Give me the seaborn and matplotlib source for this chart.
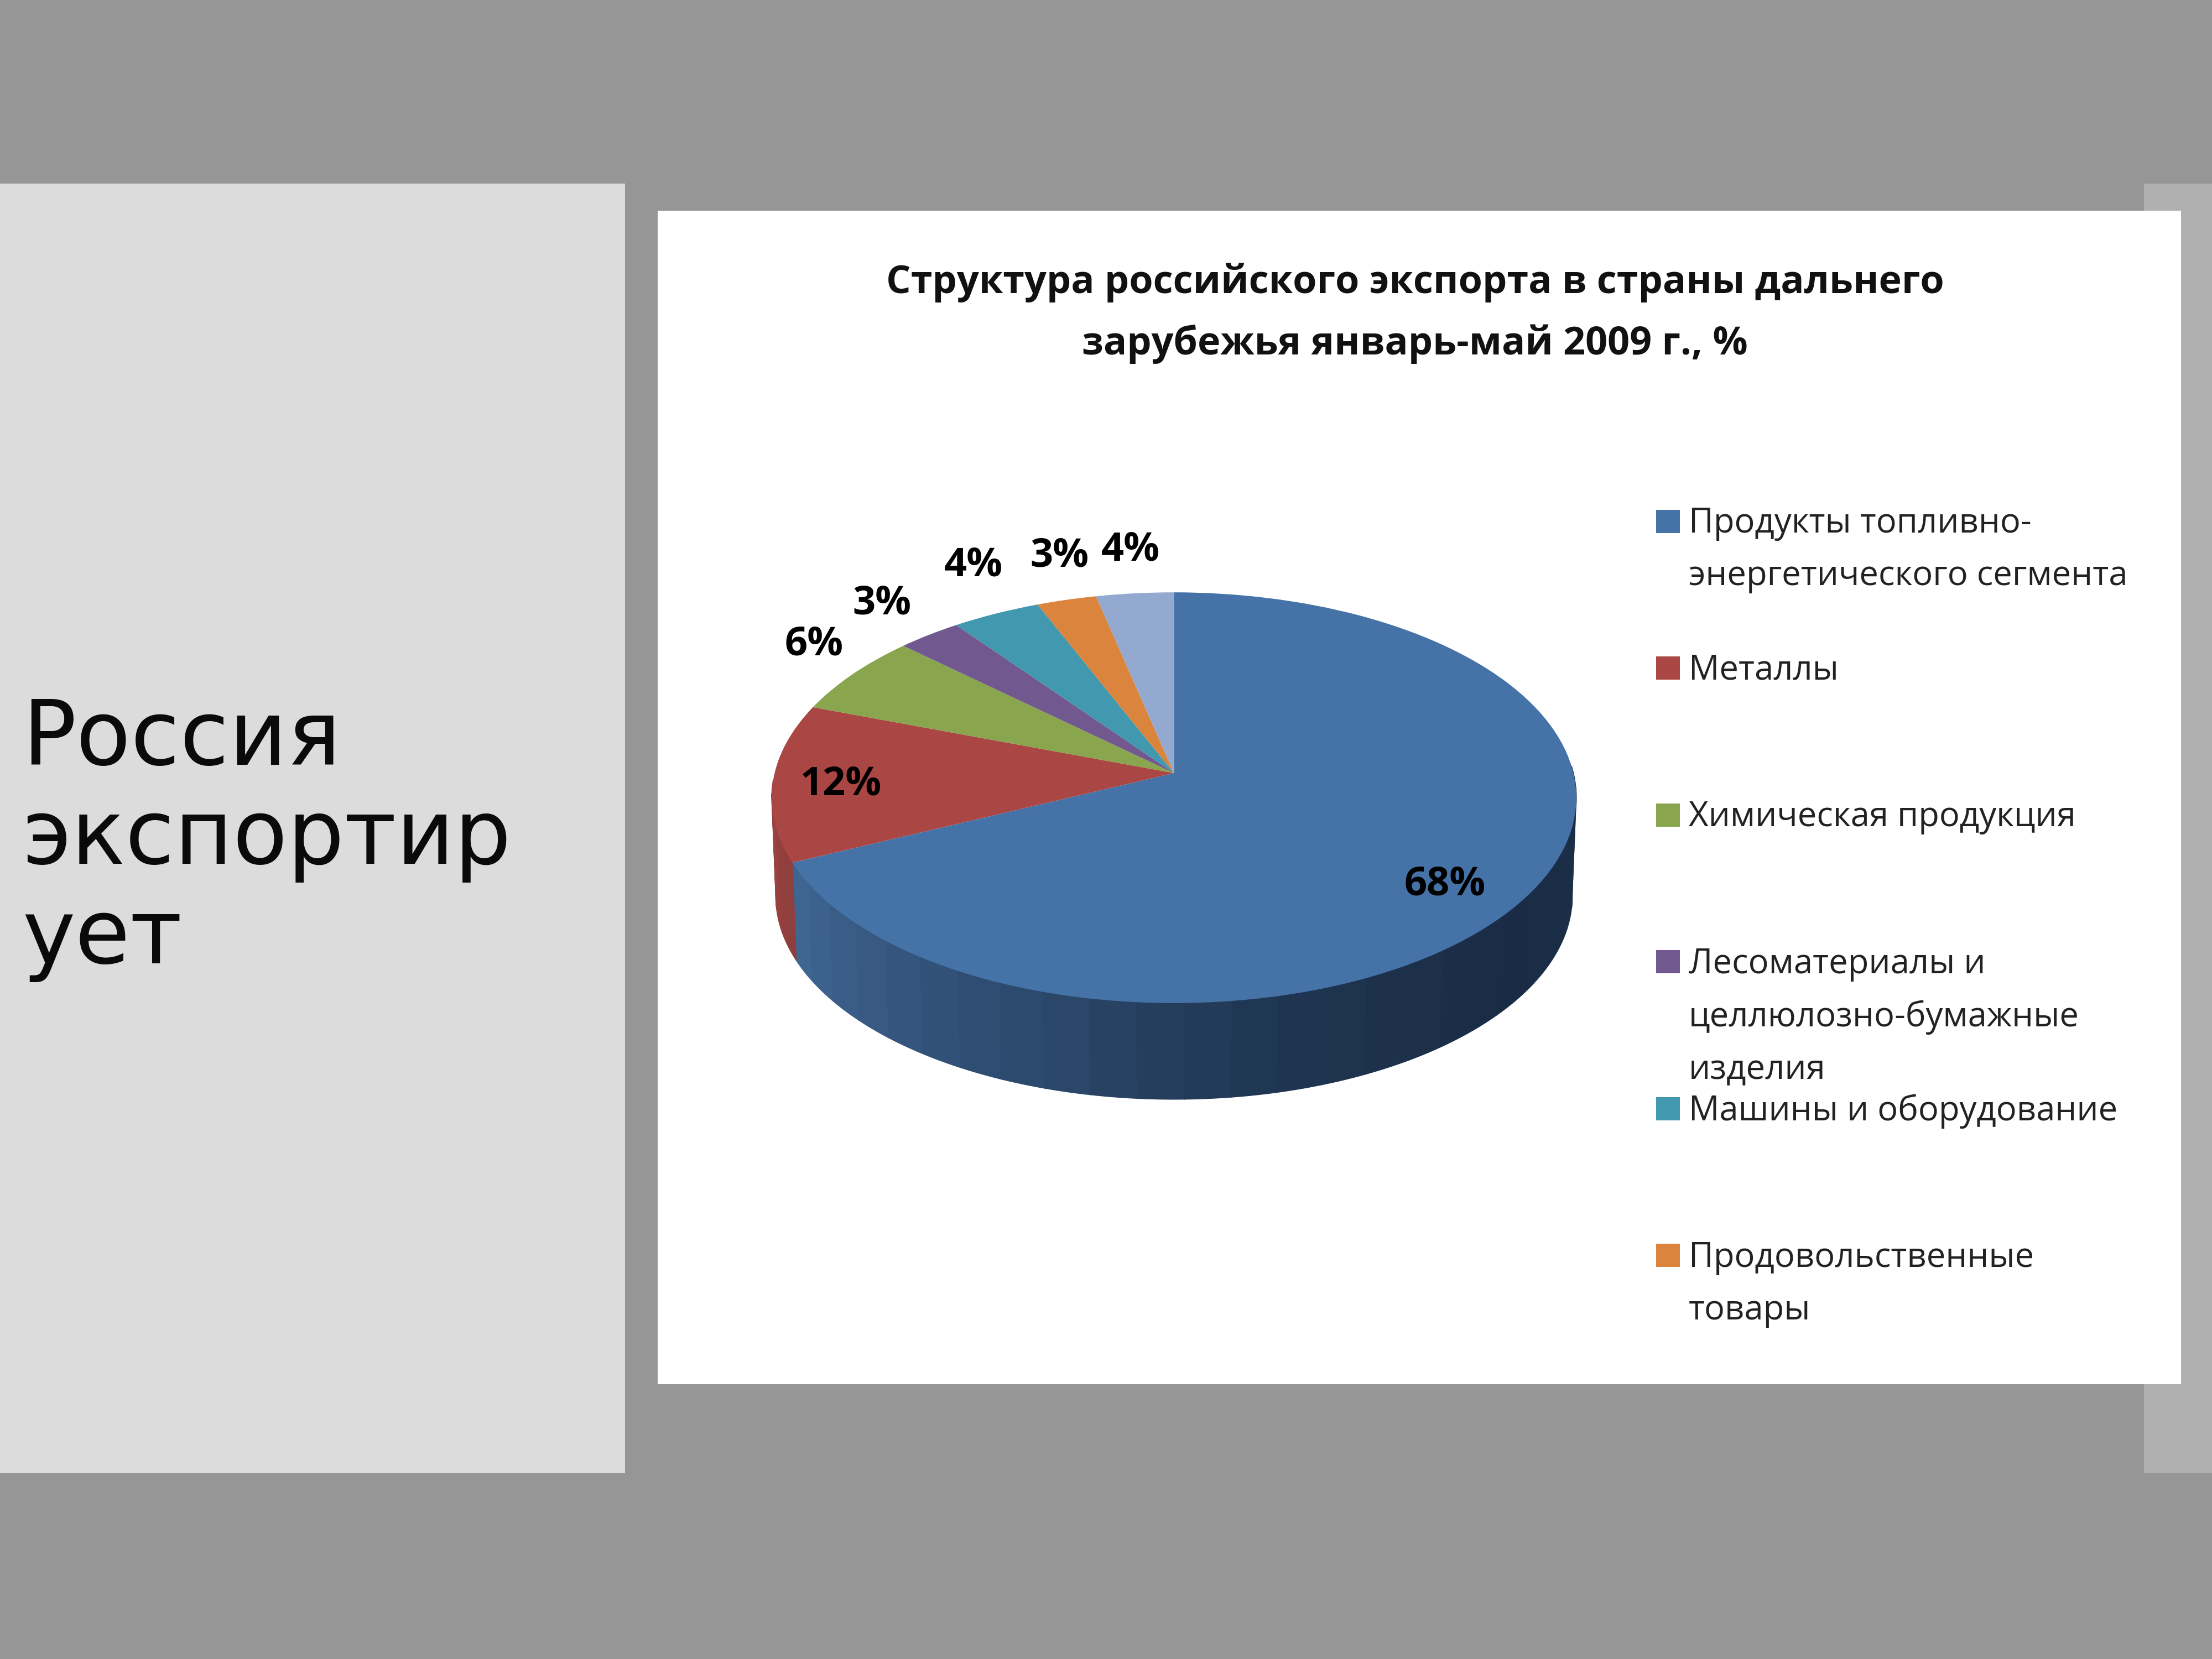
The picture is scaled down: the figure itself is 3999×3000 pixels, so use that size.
import numpy as np
import seaborn as sns
import matplotlib
matplotlib.use("Agg")
import matplotlib.pyplot as plt
from matplotlib.patches import Rectangle
from matplotlib.transforms import Transform

categories = ["Продукты топливно-\nэнергетического сегмента", "Металлы", "Химическая продукция",
              "Лесоматериалы и\nцеллюлозно-бумажные\nизделия", "Машины и оборудование",
              "Продовольственные\nтовары"]
values = [68.1, 12.4, 6.4, 2.9, 4.0, 2.7, 3.5]
pct_labels = ["68%", "12%", "6%", "3%", "4%", "3%", "4%"]
colors = ["#4572A7", "#AA4643", "#89A54E", "#71588F", "#4198AF", "#DB843D", "#93A9CF"]
title = "Структура российского экспорта в страны дальнего\nзарубежья январь-май 2009 г., %"
side_text = "Россия\nэкспортир\nует"

# Layout, in pixels of the 4000x3000 picture
S = 4000 / 1568
label_pos = [(1024, 627), (596, 556), (577, 457), (625, 428), (690, 401), (751, 394), (801, 390)]
DEPTH = 178


class PieTilt(Transform):
    # perspective view of the unit pie, far edge is smaller
    input_dims = 2
    output_dims = 2
    has_inverse = False

    def __init__(self, drop=0.0, shrink=1.0):
        super().__init__()
        self.drop = drop
        self.shrink = shrink

    def transform_non_affine(self, values):
        values = np.asarray(values, dtype=float)
        u, v = values[:, 0], values[:, 1]
        w = 1 + 0.12 * v
        x = 832 * S + self.shrink * 722 * u / w
        y = 548 * S + self.drop - self.shrink * 366 * v / w
        return np.column_stack([x, y])


sns.set_theme(style="white")
plt.rcParams["font.family"] = ["DejaVu Sans"]

fig = plt.figure(figsize=(13.3333, 10), dpi=300, facecolor="#969696")
ax = fig.add_axes([0, 0, 1, 1])

top = PieTilt()
bottom = PieTilt(drop=DEPTH, shrink=0.99)

# Side of the pie, blue part runs from the right edge round to the end of the 68% slice
def rim(start, end, shades):
    edges = np.radians(np.linspace(start, end, len(shades) + 1))
    for a, b, shade in zip(edges[:-1], edges[1:], shades):
        t = np.linspace(a, b, 12)
        pts = np.column_stack([np.sin(t), np.cos(t)])
        upper = top.transform(pts)
        lower = bottom.transform(pts)
        poly = np.vstack([upper, lower[::-1]])
        ax.fill(poly[:, 0], poly[:, 1], color=shade, lw=0.4, zorder=2)


blue_end = values[0] / sum(values) * 360
rim(blue_end, 88, sns.blend_palette(["#3f6591", "#2e4c72", "#1f3551", "#1a2c45", "#1b2e48"], 26))
rim(blue_end, 268, sns.blend_palette(["#8f3f3d", "#9a4240"], 6))

wedges, _ = ax.pie(values, colors=colors, startangle=90, counterclock=False,
                   wedgeprops={"linewidth": 0, "zorder": 3})
for w in wedges:
    w.set_transform(top + ax.transData)

ax.set_aspect("auto")
ax.set_xlim(0, 4000)
ax.set_ylim(3000, 0)
ax.axis("off")

# Slide panels
ax.add_patch(Rectangle((0, 332), 1130, 2332, color="#dcdcdc", lw=0, zorder=0))
ax.add_patch(Rectangle((3876, 332), 124, 2332, color="#b0b0b0", lw=0, zorder=0))
ax.add_patch(Rectangle((1189, 381), 2754, 2122, color="white", lw=0, zorder=1))

ax.text(40, 1518, side_text, fontsize=38.8, color="#0a0a0a", va="center", ha="left",
        linespacing=1.18, zorder=5)

ax.text(2558, 567, title, fontsize=16.85, fontweight="bold", family="Open Sans", color="#111111",
        ha="center", va="center", linespacing=1.72, zorder=5)

for txt, (x, y) in zip(pct_labels, label_pos):
    ax.text(x * S, y * S, txt, fontsize=17.3, fontweight="bold", family="Open Sans",
            color="black", ha="center", va="center", zorder=5)

# Legend, evenly spaced even when the entries wrap
for i, (name, c) in enumerate(zip(categories, colors)):
    y = (369.5 + i * 104.1) * S
    ax.add_patch(Rectangle((2994, y - 21), 43, 42, color=c, lw=0, zorder=4))
    ax.text(3053, y - 27, name, fontsize=14.8, family="Open Sans", color="#222222",
            ha="left", va="top", linespacing=1.69, zorder=5)

fig.savefig("out.png", dpi=300, facecolor=fig.get_facecolor())
